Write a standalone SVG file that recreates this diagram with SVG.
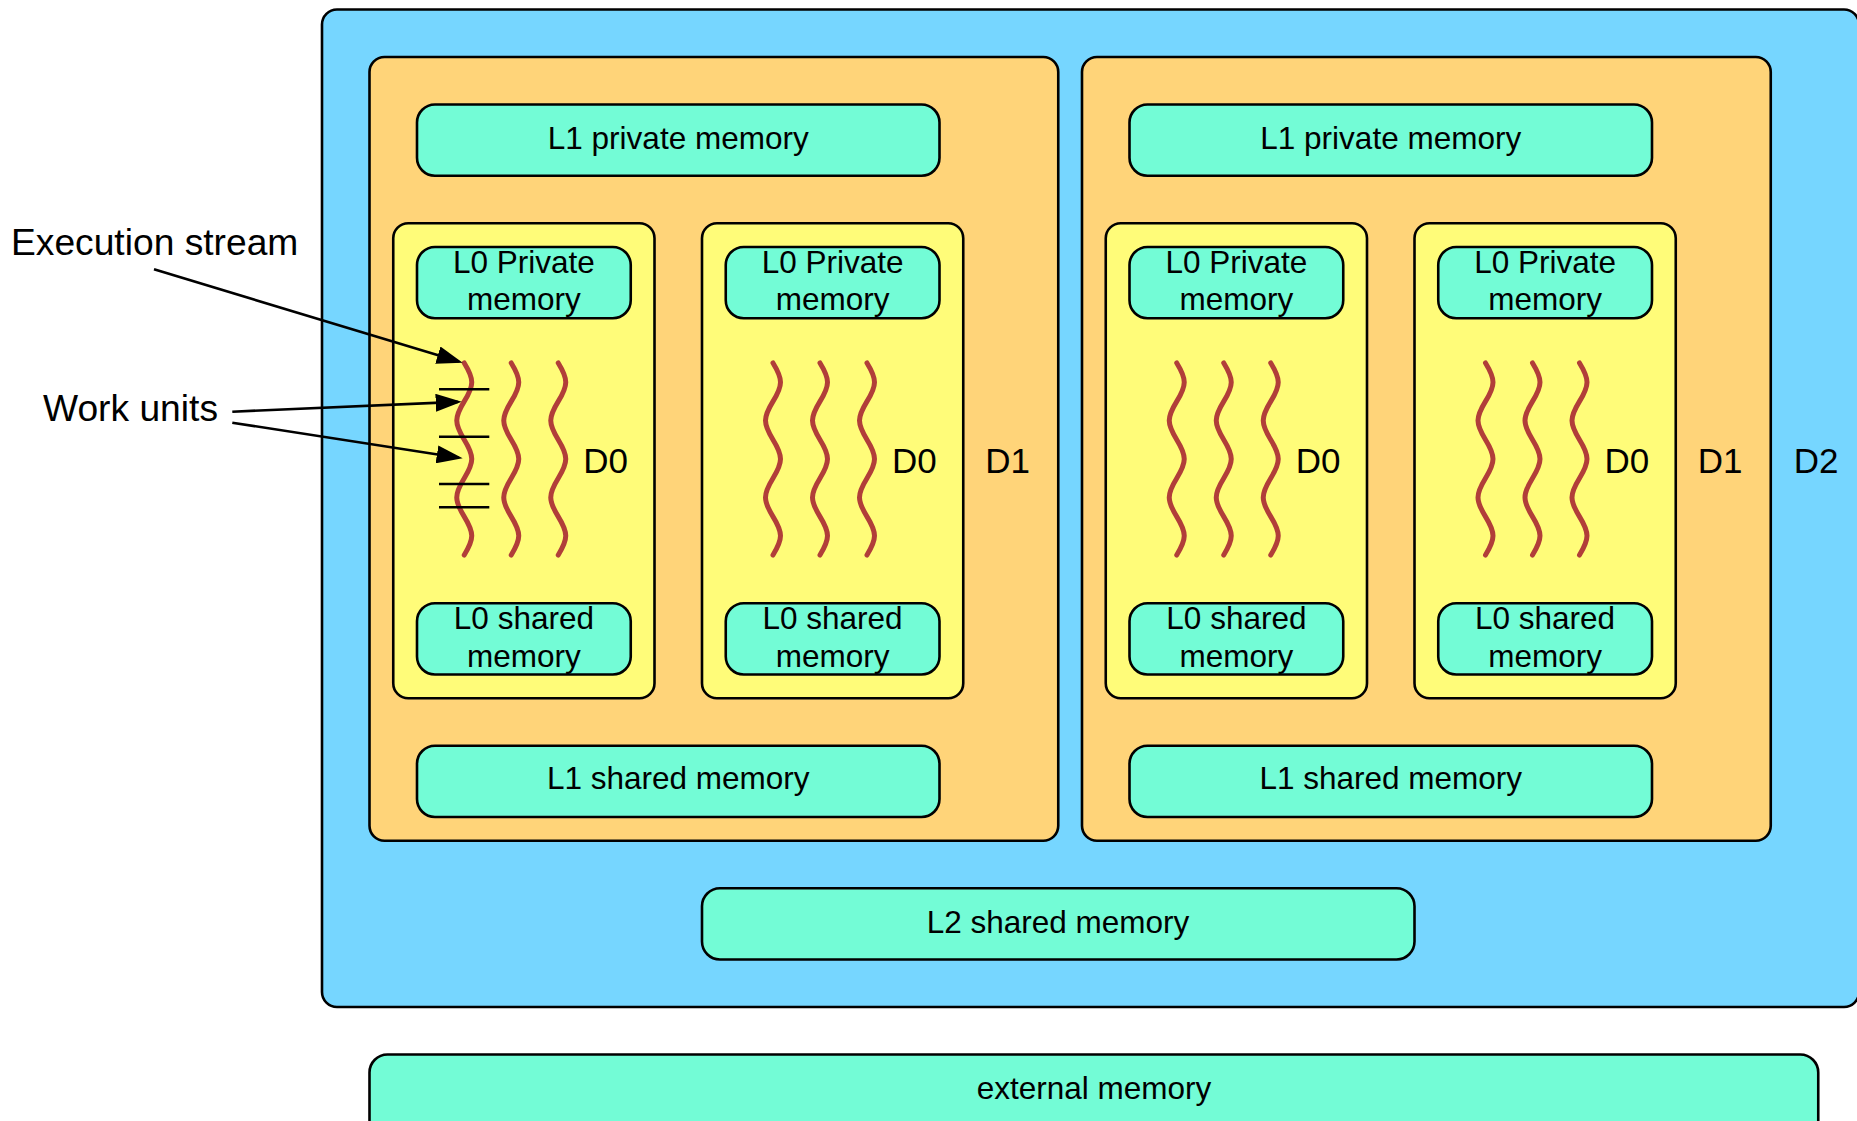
<svg xmlns="http://www.w3.org/2000/svg" xmlns:xlink="http://www.w3.org/1999/xlink" width="1857" height="1121" viewBox="0 0 1857 1121">
<style>
  .box { stroke: #000; stroke-width: 2.6; }
  .d2 { fill: #76D6FF; }
  .d1 { fill: #FFD479; }
  .d0 { fill: #FFFC79; }
  .mem { fill: #73FCD6; }
  text { font-family: "Liberation Sans", Arial, Helvetica, sans-serif; fill: #000; }
  .mt { font-size: 31.5px; text-anchor: middle; }
  .dl { font-size: 35px; text-anchor: middle; }
  .lbl { font-size: 37.2px; }
  .wave { fill: none; stroke: #B13E39; stroke-width: 5; stroke-linecap: round; }
  .wu { stroke: #000; stroke-width: 2.6; }
  .conn { stroke: #000; stroke-width: 2.6; fill: none; marker-end: url(#arrow); }
</style>
<defs>
  <marker id="arrow" viewBox="0 0 26 18" refX="22" refY="9" markerWidth="26" markerHeight="18" markerUnits="userSpaceOnUse" orient="auto">
    <path d="M0,0 L26,9 L0,18 Z" fill="#000"/>
  </marker>
  <path id="wave" class="wave" d="M0,363 c 10,16.3 10,22.1 0,38.4 s -10,22.1 0,38.4 s 10,22.1 0,38.4 s -10,22.1 0,38.4 s 10,22.1 0,38.4"/>
</defs>

<g id="D2">
  <rect class="box d2" x="322" y="9.5" width="1537" height="997.5" rx="15"/>
  <text class="dl" x="1816" y="472.7">D2</text>
</g>

<g id="external-memory">
  <rect class="box mem" x="369.5" y="1054.5" width="1448.75" height="90" rx="18"/>
  <text class="mt" x="1094" y="1098.5">external memory</text>
</g>

<g id="L2-shared-memory">
  <rect class="box mem" x="702" y="888.25" width="712.5" height="71.25" rx="18"/>
  <text class="mt" x="1058" y="932.5">L2 shared memory</text>
</g>

<!-- Left D1 -->
<g id="D1-left">
  <rect class="box d1" x="369.5" y="57" width="688.75" height="783.75" rx="15"/>
  <text class="dl" x="1007.5" y="472.7">D1</text>
</g>
<g id="L1-private-left">
  <rect class="box mem" x="417" y="104.5" width="522.5" height="71.25" rx="18"/>
  <text class="mt" x="678.25" y="149">L1 private memory</text>
</g>
<g id="L1-shared-left">
  <rect class="box mem" x="417" y="745.75" width="522.5" height="71.25" rx="18"/>
  <text class="mt" x="678.25" y="789">L1 shared memory</text>
</g>

<!-- Right D1 -->
<g id="D1-right">
  <rect class="box d1" x="1082" y="57" width="688.75" height="783.75" rx="15"/>
  <text class="dl" x="1720" y="472.7">D1</text>
</g>
<g id="L1-private-right">
  <rect class="box mem" x="1129.5" y="104.5" width="522.5" height="71.25" rx="18"/>
  <text class="mt" x="1390.75" y="149">L1 private memory</text>
</g>
<g id="L1-shared-right">
  <rect class="box mem" x="1129.5" y="745.75" width="522.5" height="71.25" rx="18"/>
  <text class="mt" x="1390.75" y="789">L1 shared memory</text>
</g>

<!-- D0 blocks -->
<g id="D0-1">
  <rect class="box d0" x="393.25" y="223.25" width="261.25" height="475" rx="15"/>
  <text class="dl" x="605.5" y="473">D0</text>
  <use xlink:href="#wave" x="464.25"/>
  <use xlink:href="#wave" x="511.25"/>
  <use xlink:href="#wave" x="558.25"/>
</g>
<g id="L0-private-1">
  <rect class="box mem" x="417" y="247" width="213.75" height="71.25" rx="18"/>
  <text class="mt" x="523.9" y="273">L0 Private</text>
  <text class="mt" x="523.9" y="310">memory</text>
</g>
<g id="L0-shared-1">
  <rect class="box mem" x="417" y="603.25" width="213.75" height="71.25" rx="18"/>
  <text class="mt" x="523.9" y="629">L0 shared</text>
  <text class="mt" x="523.9" y="666.5">memory</text>
</g>
<g id="work-units">
  <line class="wu" x1="439" y1="389.3" x2="489.3" y2="389.3"/>
  <line class="wu" x1="439" y1="436.7" x2="489.3" y2="436.7"/>
  <line class="wu" x1="439" y1="484" x2="489.3" y2="484"/>
  <line class="wu" x1="439" y1="507.3" x2="489.3" y2="507.3"/>
</g>

<g id="D0-2">
  <rect class="box d0" x="702" y="223.25" width="261.25" height="475" rx="15"/>
  <text class="dl" x="914.25" y="473">D0</text>
  <use xlink:href="#wave" x="773"/>
  <use xlink:href="#wave" x="820"/>
  <use xlink:href="#wave" x="867"/>
</g>
<g id="L0-private-2">
  <rect class="box mem" x="725.75" y="247" width="213.75" height="71.25" rx="18"/>
  <text class="mt" x="832.6" y="273">L0 Private</text>
  <text class="mt" x="832.6" y="310">memory</text>
</g>
<g id="L0-shared-2">
  <rect class="box mem" x="725.75" y="603.25" width="213.75" height="71.25" rx="18"/>
  <text class="mt" x="832.6" y="629">L0 shared</text>
  <text class="mt" x="832.6" y="666.5">memory</text>
</g>

<g id="D0-3">
  <rect class="box d0" x="1105.75" y="223.25" width="261.25" height="475" rx="15"/>
  <text class="dl" x="1318" y="473">D0</text>
  <use xlink:href="#wave" x="1176.75"/>
  <use xlink:href="#wave" x="1223.75"/>
  <use xlink:href="#wave" x="1270.75"/>
</g>
<g id="L0-private-3">
  <rect class="box mem" x="1129.5" y="247" width="213.75" height="71.25" rx="18"/>
  <text class="mt" x="1236.4" y="273">L0 Private</text>
  <text class="mt" x="1236.4" y="310">memory</text>
</g>
<g id="L0-shared-3">
  <rect class="box mem" x="1129.5" y="603.25" width="213.75" height="71.25" rx="18"/>
  <text class="mt" x="1236.4" y="629">L0 shared</text>
  <text class="mt" x="1236.4" y="666.5">memory</text>
</g>

<g id="D0-4">
  <rect class="box d0" x="1414.5" y="223.25" width="261.25" height="475" rx="15"/>
  <text class="dl" x="1626.75" y="473">D0</text>
  <use xlink:href="#wave" x="1485.5"/>
  <use xlink:href="#wave" x="1532.5"/>
  <use xlink:href="#wave" x="1579.5"/>
</g>
<g id="L0-private-4">
  <rect class="box mem" x="1438.25" y="247" width="213.75" height="71.25" rx="18"/>
  <text class="mt" x="1545.1" y="273">L0 Private</text>
  <text class="mt" x="1545.1" y="310">memory</text>
</g>
<g id="L0-shared-4">
  <rect class="box mem" x="1438.25" y="603.25" width="213.75" height="71.25" rx="18"/>
  <text class="mt" x="1545.1" y="629">L0 shared</text>
  <text class="mt" x="1545.1" y="666.5">memory</text>
</g>

<g id="label-execution-stream">
  <text class="lbl" x="11" y="255">Execution stream</text>
</g>
<g id="label-work-units">
  <text class="lbl" x="43" y="420.7">Work units</text>
</g>

<g id="connectors">
  <line class="conn" x1="154" y1="269.3" x2="458.9" y2="361.5"/>
  <line class="conn" x1="232.3" y1="411.7" x2="457.7" y2="401.9"/>
  <line class="conn" x1="232.3" y1="422.7" x2="458.7" y2="457.7"/>
</g>
</svg>
